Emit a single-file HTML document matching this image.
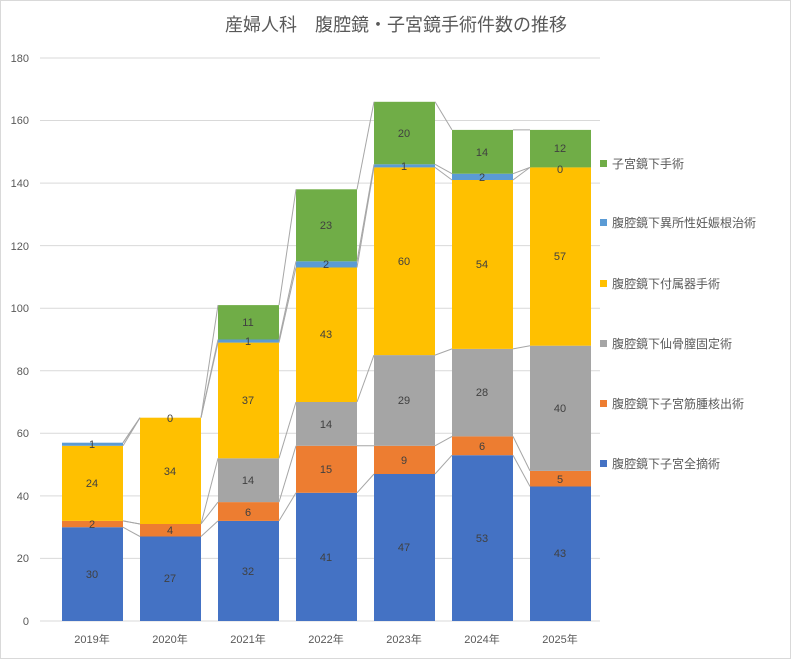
<!DOCTYPE html>
<html><head><meta charset="utf-8"><style>
body{margin:0;background:#fff}
svg{display:block;font-family:"Liberation Sans","Noto Sans CJK JP",sans-serif}
</style></head><body>
<svg width="791" height="659" viewBox="0 0 791 659" xmlns="http://www.w3.org/2000/svg">
<rect x="0.5" y="0.5" width="790" height="658" fill="#fff" stroke="#d9d9d9"/>
<text x="396" y="31" text-anchor="middle" font-size="18" fill="#595959">産婦人科　腹腔鏡・子宮鏡手術件数の推移</text>
<g stroke="#d9d9d9" stroke-width="1">
<line x1="40" x2="600" y1="621" y2="621"/><line x1="40" x2="600" y1="558.4" y2="558.4"/><line x1="40" x2="600" y1="495.9" y2="495.9"/><line x1="40" x2="600" y1="433.3" y2="433.3"/><line x1="40" x2="600" y1="370.8" y2="370.8"/><line x1="40" x2="600" y1="308.2" y2="308.2"/><line x1="40" x2="600" y1="245.6" y2="245.6"/><line x1="40" x2="600" y1="183.1" y2="183.1"/><line x1="40" x2="600" y1="120.5" y2="120.5"/><line x1="40" x2="600" y1="58" y2="58"/>
</g>
<g font-size="11" fill="#595959" text-anchor="end">
<text x="29" y="625">0</text><text x="29" y="562">20</text><text x="29" y="500">40</text><text x="29" y="437">60</text><text x="29" y="375">80</text><text x="29" y="312">100</text><text x="29" y="250">120</text><text x="29" y="187">140</text><text x="29" y="124">160</text><text x="29" y="62">180</text>
</g>
<g font-size="11" fill="#595959" text-anchor="middle">
<text x="92" y="643">2019年</text><text x="170" y="643">2020年</text><text x="248" y="643">2021年</text><text x="326" y="643">2022年</text><text x="404" y="643">2023年</text><text x="482" y="643">2024年</text><text x="560" y="643">2025年</text>
</g>
<g>
<rect x="62" y="527.2" width="61" height="93.8" fill="#4472C4"/><rect x="62" y="520.9" width="61" height="6.3" fill="#ED7D31"/><rect x="62" y="445.8" width="61" height="75.1" fill="#FFC000"/><rect x="62" y="442.7" width="61" height="3.1" fill="#5B9BD5"/>
<rect x="140" y="536.5" width="61" height="84.5" fill="#4472C4"/><rect x="140" y="524" width="61" height="12.5" fill="#ED7D31"/><rect x="140" y="417.7" width="61" height="106.3" fill="#FFC000"/>
<rect x="218" y="520.9" width="61" height="100.1" fill="#4472C4"/><rect x="218" y="502.1" width="61" height="18.8" fill="#ED7D31"/><rect x="218" y="458.3" width="61" height="43.8" fill="#A5A5A5"/><rect x="218" y="342.6" width="61" height="115.7" fill="#FFC000"/><rect x="218" y="339.5" width="61" height="3.1" fill="#5B9BD5"/><rect x="218" y="305.1" width="61" height="34.4" fill="#70AD47"/>
<rect x="296" y="492.8" width="61" height="128.2" fill="#4472C4"/><rect x="296" y="445.8" width="61" height="47" fill="#ED7D31"/><rect x="296" y="402" width="61" height="43.8" fill="#A5A5A5"/><rect x="296" y="267.5" width="61" height="134.5" fill="#FFC000"/><rect x="296" y="261.3" width="61" height="6.2" fill="#5B9BD5"/><rect x="296" y="189.3" width="61" height="72" fill="#70AD47"/>
<rect x="374" y="474" width="61" height="147" fill="#4472C4"/><rect x="374" y="445.8" width="61" height="28.2" fill="#ED7D31"/><rect x="374" y="355.1" width="61" height="90.7" fill="#A5A5A5"/><rect x="374" y="167.4" width="61" height="187.7" fill="#FFC000"/><rect x="374" y="164.3" width="61" height="3.1" fill="#5B9BD5"/><rect x="374" y="101.8" width="61" height="62.5" fill="#70AD47"/>
<rect x="452" y="455.2" width="61" height="165.8" fill="#4472C4"/><rect x="452" y="436.4" width="61" height="18.8" fill="#ED7D31"/><rect x="452" y="348.9" width="61" height="87.5" fill="#A5A5A5"/><rect x="452" y="180" width="61" height="168.9" fill="#FFC000"/><rect x="452" y="173.7" width="61" height="6.3" fill="#5B9BD5"/><rect x="452" y="129.9" width="61" height="43.8" fill="#70AD47"/>
<rect x="530" y="486.5" width="61" height="134.5" fill="#4472C4"/><rect x="530" y="470.9" width="61" height="15.6" fill="#ED7D31"/><rect x="530" y="345.7" width="61" height="125.2" fill="#A5A5A5"/><rect x="530" y="167.4" width="61" height="178.3" fill="#FFC000"/><rect x="530" y="129.9" width="61" height="37.5" fill="#70AD47"/>
</g>
<g stroke="#a6a6a6" stroke-width="1" fill="none">
<polyline points="123,527.2 140,536.5"/><polyline points="201,536.5 218,520.9"/><polyline points="279,520.9 296,492.8"/><polyline points="357,492.8 374,474"/><polyline points="435,474 452,455.2"/><polyline points="513,455.2 530,486.5"/>
<polyline points="123,520.9 140,524"/><polyline points="201,524 218,502.1"/><polyline points="279,502.1 296,445.8"/><polyline points="357,445.8 374,445.8"/><polyline points="435,445.8 452,436.4"/><polyline points="513,436.4 530,470.9"/>
<polyline points="123,520.9 140,524"/><polyline points="201,524 218,458.3"/><polyline points="279,458.3 296,402"/><polyline points="357,402 374,355.1"/><polyline points="435,355.1 452,348.9"/><polyline points="513,348.9 530,345.7"/>
<polyline points="123,445.8 140,417.7"/><polyline points="201,417.7 218,342.6"/><polyline points="279,342.6 296,267.5"/><polyline points="357,267.5 374,167.4"/><polyline points="435,167.4 452,180"/><polyline points="513,180 530,167.4"/>
<polyline points="123,442.7 140,417.7"/><polyline points="201,417.7 218,339.5"/><polyline points="279,339.5 296,261.3"/><polyline points="357,261.3 374,164.3"/><polyline points="435,164.3 452,173.7"/><polyline points="513,173.7 530,167.4"/>
<polyline points="123,442.7 140,417.7"/><polyline points="201,417.7 218,305.1"/><polyline points="279,305.1 296,189.3"/><polyline points="357,189.3 374,101.8"/><polyline points="435,101.8 452,129.9"/><polyline points="513,129.9 530,129.9"/>
</g>
<g font-size="11" fill="#404040" text-anchor="middle">
<text x="92" y="578">30</text><text x="92" y="528">2</text><text x="92" y="487">24</text><text x="92" y="448">1</text>
<text x="170" y="582">27</text><text x="170" y="534">4</text><text x="170" y="475">34</text><text x="170" y="422">0</text>
<text x="248" y="575">32</text><text x="248" y="516">6</text><text x="248" y="484">14</text><text x="248" y="404">37</text><text x="248" y="345">1</text><text x="248" y="326">11</text>
<text x="326" y="561">41</text><text x="326" y="473">15</text><text x="326" y="428">14</text><text x="326" y="338">43</text><text x="326" y="268">2</text><text x="326" y="229">23</text>
<text x="404" y="551">47</text><text x="404" y="464">9</text><text x="404" y="404">29</text><text x="404" y="265">60</text><text x="404" y="170">1</text><text x="404" y="137">20</text>
<text x="482" y="542">53</text><text x="482" y="450">6</text><text x="482" y="396">28</text><text x="482" y="268">54</text><text x="482" y="181">2</text><text x="482" y="156">14</text>
<text x="560" y="557">43</text><text x="560" y="483">5</text><text x="560" y="412">40</text><text x="560" y="260">57</text><text x="560" y="173">0</text><text x="560" y="152">12</text>
</g>
<g font-size="12" fill="#595959">
<rect x="600" y="160" width="7" height="7" fill="#70AD47"/><text x="612" y="168">子宮鏡下手術</text>
<rect x="600" y="219" width="7" height="7" fill="#5B9BD5"/><text x="612" y="227">腹腔鏡下異所性妊娠根治術</text>
<rect x="600" y="280" width="7" height="7" fill="#FFC000"/><text x="612" y="288">腹腔鏡下付属器手術</text>
<rect x="600" y="340" width="7" height="7" fill="#A5A5A5"/><text x="612" y="348">腹腔鏡下仙骨膣固定術</text>
<rect x="600" y="400" width="7" height="7" fill="#ED7D31"/><text x="612" y="408">腹腔鏡下子宮筋腫核出術</text>
<rect x="600" y="460" width="7" height="7" fill="#4472C4"/><text x="612" y="468">腹腔鏡下子宮全摘術</text>
</g>
</svg>
</body></html>
